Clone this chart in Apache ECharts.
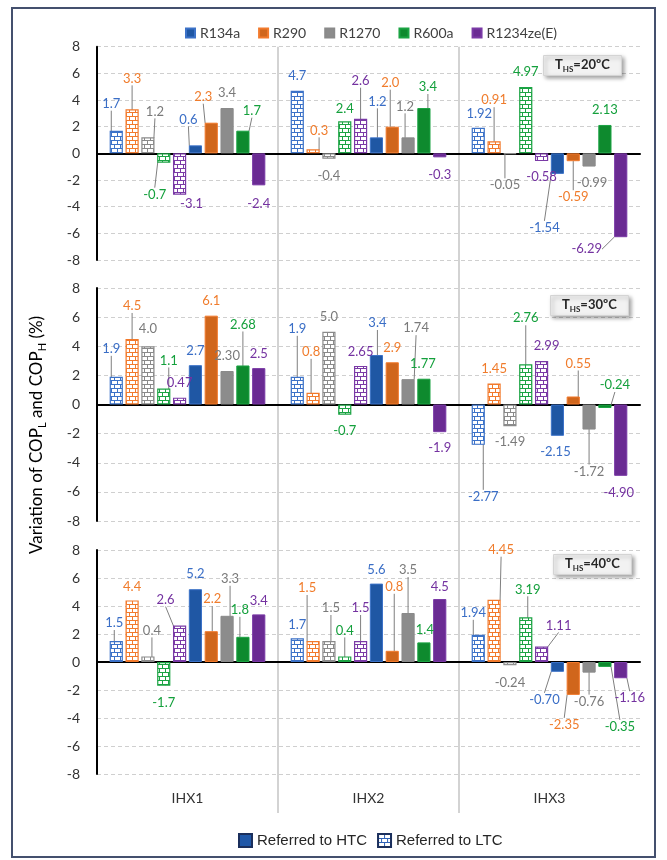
<!DOCTYPE html>
<html>
  <head>
    <meta charset="utf-8" />
    <title>Variation of COP</title>
    <script src="https://cdn.jsdelivr.net/npm/echarts@6/dist/echarts.min.js"></script>
    <style>
      body { margin: 0; background: #fff; }
    </style>
  </head>

  <body>
    <div id="main" style="width: 667px; height: 860px"></div>
    <script type="text/javascript">
      const refrigerants = ["R134a", "R290", "R1270", "R600a", "R1234ze(E)"];
      const groups = ["IHX1", "IHX2", "IHX3"];
      const temps = ["20", "30", "40"];

      // one row per refrigerant, values for [IHX1, IHX2, IHX3]
      // kept as strings so the printed decimals match the figure
      const ltc20 = [["1.7", "4.7", "1.92"], ["3.3", "0.3", "0.91"], ["1.2", "-0.4", "-0.05"], ["-0.7", "2.4", "4.97"], ["-3.1", "2.6", "-0.58"]];
      const htc20 = [["0.6", "1.2", "-1.54"], ["2.3", "2.0", "-0.59"], ["3.4", "1.2", "-0.99"], ["1.7", "3.4", "2.13"], ["-2.4", "-0.3", "-6.29"]];
      const ltc30 = [["1.9", "1.9", "-2.77"], ["4.5", "0.8", "1.45"], ["4.0", "5.0", "-1.49"], ["1.1", "-0.7", "2.76"], ["0.47", "2.65", "2.99"]];
      const htc30 = [["2.7", "3.4", "-2.15"], ["6.1", "2.9", "0.55"], ["2.30", "1.74", "-1.72"], ["2.68", "1.77", "-0.24"], ["2.5", "-1.9", "-4.90"]];
      const ltc40 = [["1.5", "1.7", "1.94"], ["4.4", "1.5", "4.45"], ["0.4", "1.5", "-0.24"], ["-1.7", "0.4", "3.19"], ["2.6", "1.5", "1.11"]];
      const htc40 = [["5.2", "5.6", "-0.70"], ["2.2", "0.8", "-2.35"], ["3.3", "3.5", "-0.76"], ["1.8", "1.4", "-0.35"], ["3.4", "4.5", "-1.16"]];

      // label placement (px from the bar end) per IHX group, 10 bars: [dx, dy, leader line]
      const off20 = [
        [[-5, -27, 1], [0, -31, 1], [7, -26, 1], [-9, 32, 1], [12, 9, 0], [-7, -26, 1], [-8, -26, 1], [0, -15, 0], [9, -20, 1], [0, 18, 0]],
        [[0, -15, 0], [6, -19, 1], [0, 17, 0], [0, -13, 0], [0, -38, 1], [1, -36, 1], [-2, -44, 1], [-3, -31, 1], [4, -21, 1], [0, 17, 0]],
        [[1, -14, 0], [0, -41, 1], [-5, 31, 1], [0, -15, 0], [0, 16, 0], [-13, 54, 1], [0, 36, 1], [3, 16, 0], [0, -15, 0], [-34, 12, 1]]
      ];
      const off30 = [
        [[-5, -28, 1], [0, -33, 1], [0, -17, 0], [5, -28, 1], [0, -15, 0], [0, -14, 0], [0, -15, 0], [0, -15, 0], [0, -41, 1], [0, -14, 0]],
        [[0, -48, 1], [-2, -41, 1], [0, -15, 0], [0, 16, 0], [0, -14, 0], [1, -32, 1], [0, -14, 0], [8, -51, 1], [-1, -15, 0], [0, 16, 0]],
        [[5, 52, 1], [0, -15, 0], [0, 16, 0], [0, -46, 1], [5, -15, 0], [-2, 16, 0], [5, -33, 1], [0, 42, 1], [10, -23, 1], [-2, 17, 0]]
      ];
      const off40 = [
        [[-2, -18, 1], [0, -14, 0], [4, -26, 1], [0, 17, 0], [-14, -26, 1], [0, -15, 0], [1, -32, 1], [3, -37, 1], [-3, -27, 1], [0, -14, 0]],
        [[0, -13, 0], [-6, -53, 1], [2, -33, 1], [0, -26, 1], [0, -33, 1], [0, -14, 0], [2, -64, 1], [0, -43, 1], [1, -13, 0], [0, -12, 0]],
        [[-5, -22, 1], [7, -50, 1], [0, 17, 0], [2, -28, 1], [17, -21, 1], [-13, 28, 1], [-9, 30, 1], [0, 29, 1], [15, 60, 1], [9, 20, 1]]
      ];

      const solid = ["#1F57A4", "#D0661C", "#8C8C8C", "#0E8A2E", "#6A2B93"];
      const light = ["#3C72C8", "#F27A2C", "#8A8A8A", "#1BA343", "#7A3AA6"];
      const textCol = ["#3A6EC6", "#F07C2C", "#7A7A7A", "#14A03C", "#7432A0"];
      const font = "Lato, 'Noto Sans', sans-serif";

      function brick(color) {
        const c = document.createElement("canvas");
        c.width = 6;
        c.height = 8;
        const g = c.getContext("2d");
        g.fillStyle = "#fff";
        g.fillRect(0, 0, 6, 8);
        g.fillStyle = color;
        g.fillRect(0, 0, 6, 1);
        g.fillRect(0, 4, 6, 1);
        g.fillRect(0, 0, 1, 4);
        g.fillRect(3, 4, 1, 4);
        return { image: c, repeat: "repeat" };
      }

      const panels = [
        { ltc: ltc20, htc: htc20, off: off20 },
        { ltc: ltc30, htc: htc30, off: off30 },
        { ltc: ltc40, htc: htc40, off: off40 }
      ];
      const gridPos = [
        { top: 46.7, height: 213.3 },
        { top: 288, height: 233 },
        { top: 550, height: 224 }
      ];

      const series = [];
      panels.forEach(function (p, pi) {
        ["ltc", "htc"].forEach(function (kind) {
          p[kind].forEach(function (vals, ri) {
            const j = (kind === "ltc" ? 0 : 5) + ri;
            series.push({
              type: "bar",
              name: kind === "htc" ? refrigerants[ri] : refrigerants[ri] + " LTC",
              xAxisIndex: pi,
              yAxisIndex: pi,
              barGap: "20%",
              barCategoryGap: "14%",
              data: vals.map(function (v, gi) {
                return { value: v, labelLine: { show: !!p.off[gi][j][2] } };
              }),
              itemStyle:
                kind === "htc"
                  ? { color: solid[ri], borderColor: light[ri], borderWidth: 1 }
                  : { color: brick(light[ri]), borderColor: light[ri], borderWidth: 1.2 },
              label: {
                show: true,
                position: "outside",
                distance: 0,
                color: textCol[ri],
                fontFamily: font,
                fontSize: 13,
                lineHeight: 14,
                formatter: function (prm) { return vals[prm.dataIndex]; }
              },
              labelLine: { lineStyle: { color: "#7f7f7f", width: 1 } },
              labelLayout: function (prm) {
                const o = p.off[prm.dataIndex][j];
                const neg = parseFloat(vals[prm.dataIndex]) < 0;
                return { dx: o[0], dy: o[1] + (neg ? -7 : 7) };
              },
              emphasis: { disabled: true }
            });
          });
        });
      });

      // entries for the bottom legend, drawn on the background grid with no data
      series.push({
        type: "bar", name: "Referred to HTC", xAxisIndex: 3, yAxisIndex: 3, data: [],
        itemStyle: { color: "#2058A8", borderColor: "#1B2F5C", borderWidth: 1.5 }
      });
      series.push({
        type: "bar", name: "Referred to LTC", xAxisIndex: 3, yAxisIndex: 3, data: [],
        itemStyle: { color: brick("#2E62B8"), borderColor: "#1B2F5C", borderWidth: 1.5 }
      });

      const grids = gridPos.map(function (g) {
        return { left: 97, right: 27, top: g.top, height: g.height };
      });
      grids.push({ left: 97, right: 27, top: 46.7, bottom: 47 });

      const xAxes = gridPos.map(function (g, i) {
        return {
          type: "category", gridIndex: i, data: groups,
          axisLine: { onZero: true, lineStyle: { color: "#000", width: 2 } },
          axisTick: { show: false }, axisLabel: { show: false }, splitLine: { show: false }
        };
      });
      xAxes.push({
        type: "category", gridIndex: 3, data: groups, position: "bottom",
        axisLine: { show: false }, axisTick: { show: false },
        axisLabel: { margin: -22, fontSize: 14, color: "#333", fontFamily: font },
        splitLine: { show: true, showMinLine: false, showMaxLine: false, lineStyle: { color: "#d3d3d3", width: 2 } }
      });

      const yAxes = gridPos.map(function (g, i) {
        return {
          type: "value", gridIndex: i, min: -8, max: 8, interval: 2,
          axisLine: { show: true, onZero: false, lineStyle: { color: "#000", width: 2 } },
          axisTick: { show: false },
          axisLabel: { fontSize: 14, color: "#333", margin: 17, fontFamily: font },
          splitLine: { show: true, lineStyle: { color: "#cfcfcf", type: [4, 3], width: 1 } }
        };
      });
      yAxes.push({ type: "value", gridIndex: 3, show: false });

      const boxPos = [[543, 53], [550, 293], [553, 552]];
      const richBox = {
        a: { fontSize: 13, fontWeight: "bold", color: "#262626", lineHeight: 17, fontFamily: font },
        s: { fontSize: 8, fontWeight: "bold", color: "#262626", lineHeight: 9, verticalAlign: "bottom", fontFamily: font }
      };

      const myChart = echarts.init(document.getElementById("main"));
      const option = {
        animation: false,
        title: temps.map(function (t, i) {
          return {
            text: "{a|T}{s|HS}{a|=" + t + "ºC}",
            left: boxPos[i][0], top: boxPos[i][1],
            padding: [3, 12, 3, 12],
            backgroundColor: "#f2f2f2", borderColor: "#d4d4d4", borderWidth: 1,
            shadowBlur: 4, shadowColor: "rgba(0,0,0,0.35)", shadowOffsetX: 2, shadowOffsetY: 2,
            textStyle: { rich: richBox }
          };
        }),
        legend: [
          {
            data: refrigerants, top: 21, left: 180, icon: "rect", itemWidth: 9, itemHeight: 9,
            itemGap: 18, selectedMode: false,
            textStyle: { fontSize: 14, color: "#404040", fontFamily: font }
          },
          {
            data: ["Referred to HTC", "Referred to LTC"], top: 828, left: 233, icon: "rect",
            itemWidth: 13, itemHeight: 13, itemGap: 10, selectedMode: false,
            textStyle: { fontSize: 15, color: "#262626", fontFamily: "'Liberation Sans', sans-serif" }
          }
        ],
        grid: grids,
        xAxis: xAxes,
        yAxis: yAxes,
        series: series,
        graphic: [
          {
            type: "rect", silent: true, z: -10,
            shape: { x: 12, y: 8, width: 643, height: 849 },
            style: { fill: "none", stroke: "#44506E", lineWidth: 2 }
          },
          {
            type: "text", silent: true, x: 37, y: 435, rotation: Math.PI / 2,
            style: {
              text: "{a|Variation of COP}{s|L}{a| and COP}{s|H}{a| (%)}",
              align: "center", verticalAlign: "middle",
              rich: {
                a: { fontSize: 17, color: "#262626", lineHeight: 21, fontFamily: font },
                s: { fontSize: 11, color: "#262626", lineHeight: 12, verticalAlign: "bottom", fontFamily: font }
              }
            }
          }
        ]
      };

      myChart.setOption(option);
    </script>
  </body>
</html>
